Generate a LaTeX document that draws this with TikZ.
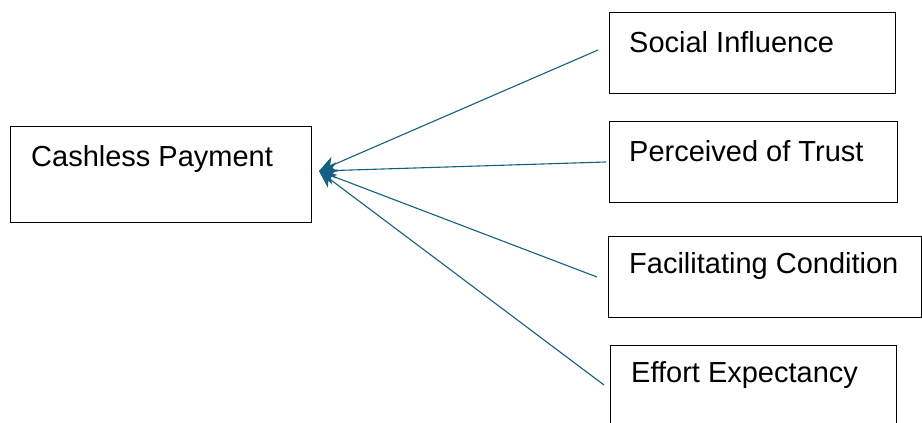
\documentclass[tikz,border=0pt]{standalone}
\usepackage{fontspec}
\setmainfont{Liberation Sans}
\usetikzlibrary{arrows.meta}
\definecolor{linkblue}{HTML}{156082}
\begin{document}
\begin{tikzpicture}[x=1pt,y=-1pt,
  box/.style={draw=black,line width=1pt,rectangle,inner sep=0pt,anchor=north west},
  lbl/.style={anchor=west,inner sep=0pt,font=\fontsize{29}{33}\selectfont},
  link/.style={draw=linkblue,line width=1.1pt,-{Stealth[length=17pt,width=16pt,inset=5pt]}}]
\useasboundingbox (0,0) rectangle (922,423);
\fill[white] (0,0) rectangle (922,423);
\begin{scope}
\clip (0,0) rectangle (922,423);
\node[box,minimum width=301pt,minimum height=96pt] (cash) at (10,126) {};
\node[box,minimum width=286pt,minimum height=81pt] (social) at (609,12) {};
\node[box,minimum width=288pt,minimum height=81pt] (trust) at (609,121) {};
\node[box,minimum width=313pt,minimum height=81pt] (facil) at (608,236) {};
\node[box,minimum width=286pt,minimum height=90pt] (effort) at (610,345) {};
\end{scope}
\node[lbl] (cashT) at (31,159) {Cashless Payment};
\node[lbl] (socialT) at (629,42) {Social Influence};
\node[lbl] (trustT) at (629,151) {Perceived of Trust};
\node[lbl] (facilT) at (629,266) {Facilitating Condition};
\node[lbl] (effortT) at (631,375) {Effort Expectancy};
\coordinate (tip) at (319,171);
\coordinate (s1) at (598,50);
\coordinate (s2) at (606,162);
\coordinate (s3) at (597,277);
\coordinate (s4) at (604,385);
\draw[link] (s1) -- (tip);
\draw[link] (s2) -- (tip);
\draw[link] (s3) -- (tip);
\draw[link] (s4) -- (tip);
\end{tikzpicture}
\end{document}
